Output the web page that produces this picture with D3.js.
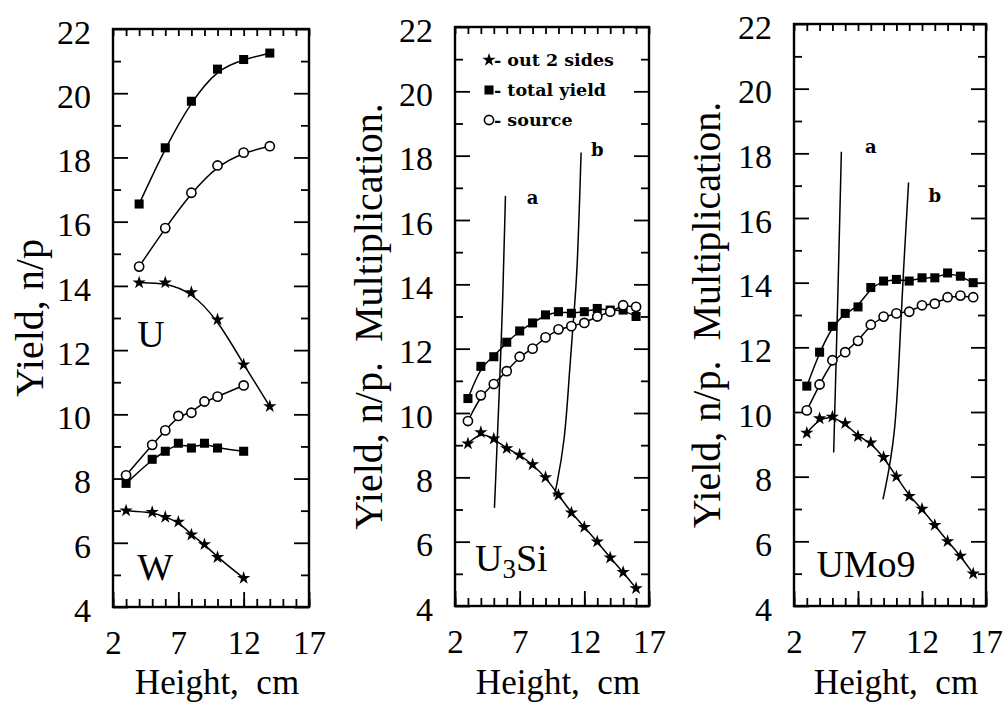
<!DOCTYPE html>
<html>
<head>
<meta charset="utf-8">
<script src="https://cdn.jsdelivr.net/npm/d3@7"></script>
<style>
  body { margin: 0; background: #fff; }
  svg { display: block; }
</style>
</head>
<body>
<div id="chart"></div>
<script>
// ---- data ----
// panel 1: U and W
var uX = [4, 6, 8, 10, 12, 14];
var uTotal = [16.55, 18.3, 19.75, 20.75, 21.05, 21.25];
var uSource = [14.6, 15.8, 16.9, 17.75, 18.15, 18.35];
var uOut = [14.1, 14.1, 13.8, 12.95, 11.55, 10.25];
var wX = [3, 5, 6, 7, 8, 9, 10, 12];
var wTotal = [7.85, 8.6, 8.85, 9.1, 8.95, 9.1, 8.95, 8.85];
var wSource = [8.1, 9.05, 9.5, 9.95, 10.05, 10.4, 10.55, 10.9];
var wOut = [7.0, 6.95, 6.8, 6.65, 6.25, 5.95, 5.55, 4.9];

// panel 2: U3Si
var siX = [3, 4, 5, 6, 7, 8, 9, 10, 11, 12, 13, 14, 15, 16];
var siTotal = [10.45, 11.45, 11.75, 12.2, 12.55, 12.8, 13.05, 13.15, 13.1, 13.15, 13.25, 13.2, 13.2, 13.0];
var siSource = [9.75, 10.55, 10.9, 11.3, 11.75, 12.0, 12.35, 12.6, 12.7, 12.8, 13.0, 13.15, 13.35, 13.3];
var siOut = [9.05, 9.4, 9.2, 8.9, 8.7, 8.4, 8.0, 7.45, 6.9, 6.45, 6.0, 5.5, 5.05, 4.55];
var siLineAX = [5.9, 5.7, 5.4, 5.05], siLineAY = [16.75, 13.5, 10.4, 7.05];
var siLineBX = [11.75, 11.45, 11.15, 10.8, 10.5, 9.8, 9.65], siLineBY = [18.1, 14.25, 12.9, 11.0, 9.15, 7.6, 7.4];

// panel 3: UMo9
var moX = [3, 4, 5, 6, 7, 8, 9, 10, 11, 12, 13, 14, 15, 16];
var moTotal = [10.8, 11.85, 12.65, 13.05, 13.25, 13.85, 14.05, 14.1, 14.05, 14.15, 14.15, 14.3, 14.2, 14.0];
var moSource = [10.05, 10.85, 11.6, 11.85, 12.2, 12.7, 12.95, 13.05, 13.1, 13.3, 13.35, 13.55, 13.6, 13.55];
var moOut = [9.35, 9.8, 9.85, 9.65, 9.25, 9.05, 8.6, 8.0, 7.4, 7.0, 6.5, 6.0, 5.55, 5.0];
var moLineAX = [5.7, 5.5, 5.1], moLineAY = [18.05, 14.7, 8.75];
var moLineBX = [10.95, 10.6, 10.3, 9.95, 8.95], moLineBY = [17.1, 14.7, 12.5, 9.2, 7.3];

// axis ticks
var xMajor = [2, 7, 12, 17];
var xMinor = d3.range(2, 18);
var yMajor = [4, 6, 8, 10, 12, 14, 16, 18, 20, 22];
var yMinor = [5, 7, 9, 11, 13, 15, 17, 19, 21];

var legendNames = ["- out 2 sides", "- total yield", "- source"];
var legendKinds = ["star", "square", "circle"];

var serif = "'Liberation Serif'";
var smallFont = "'DejaVu Serif'";

function zip(xs, ys) {
    return xs.map(function (v, i) { return [v, ys[i]]; });
}

var panels = [
    {left: 113, right: 309, top: 29, bottom: 607, title: "Yield, n/p", titleX: 43,
     series: [
        {kind: "square", pts: zip(uX, uTotal)},
        {kind: "circle", pts: zip(uX, uSource)},
        {kind: "star", pts: zip(uX, uOut)},
        {kind: "square", pts: zip(wX, wTotal)},
        {kind: "circle", pts: zip(wX, wSource)},
        {kind: "star", pts: zip(wX, wOut)}
     ],
     marks: [],
     notes: [],
     names: [{x: 3.85, y: 12.1, text: "U"}, {x: 3.85, y: 4.84, text: "W"}]},
    {left: 455, right: 649, top: 27, bottom: 606, title: "Yield, n/p.\u00a0 Multiplication.", titleX: 382,
     series: [
        {kind: "square", pts: zip(siX, siTotal)},
        {kind: "circle", pts: zip(siX, siSource)},
        {kind: "star", pts: zip(siX, siOut)}
     ],
     marks: [zip(siLineAX, siLineAY), zip(siLineBX, siLineBY)],
     notes: [{x: 8, y: 16.7, text: "a"}, {x: 13, y: 18.2, text: "b"}],
     names: [{x: 3.55, y: 5.1, text: "U", sub: "3", rest: "Si"}],
     legend: true},
    {left: 794, right: 986, top: 24, bottom: 606, title: "Yield, n/p.\u00a0 Multiplication.", titleX: 720,
     series: [
        {kind: "square", pts: zip(moX, moTotal)},
        {kind: "circle", pts: zip(moX, moSource)},
        {kind: "star", pts: zip(moX, moOut)}
     ],
     marks: [zip(moLineAX, moLineAY), zip(moLineBX, moLineBY)],
     notes: [{x: 8, y: 18.2, text: "a"}, {x: 13, y: 16.7, text: "b"}],
     names: [{x: 3.75, y: 4.9, text: "UMo9"}]}
];

var svg = d3.select("#chart").append("svg")
    .attr("width", 1007)
    .attr("height", 704);

function marker(sel, kind) {
    if (kind === "circle") {
        sel.append("circle")
            .attr("r", 4.6)
            .attr("fill", "#fff")
            .attr("stroke", "#000")
            .attr("stroke-width", 1.6);
    } else {
        sel.append("path")
            .attr("d", d3.symbol()
                .type(kind === "star" ? d3.symbolStar : d3.symbolSquare)
                .size(kind === "star" ? 55 : 82)())
            .attr("fill", "#000");
    }
}

function styleAxis(a) {
    a.select(".domain").remove();
    a.attr("font-family", null).attr("font-size", null);
    a.selectAll("line").attr("stroke", "#000").attr("stroke-width", 1.8);
    a.selectAll("text")
        .attr("fill", "#000")
        .style("font-family", serif)
        .style("font-size", "34px");
}

function drawPanel(p) {
    var x = d3.scaleLinear().domain([2, 17]).range([p.left, p.right]);
    var y = d3.scaleLinear().domain([4, 22]).range([p.bottom, p.top]);
    var g = svg.append("g");

    // tick marks, all pointing inward
    g.append("g").attr("transform", "translate(" + p.left + ",0)")
        .call(d3.axisLeft(y).tickValues(yMajor).tickSize(-15).tickPadding(22).tickFormat(d3.format("d")))
        .call(styleAxis)
        .selectAll("text").attr("dy", "0.42em");
    g.append("g").attr("transform", "translate(" + p.left + ",0)")
        .call(d3.axisLeft(y).tickValues(yMinor).tickSize(-8).tickFormat(""))
        .call(styleAxis);
    g.append("g").attr("transform", "translate(" + p.right + ",0)")
        .call(d3.axisRight(y).tickValues(yMajor).tickSize(-15).tickFormat(""))
        .call(styleAxis);
    g.append("g").attr("transform", "translate(" + p.right + ",0)")
        .call(d3.axisRight(y).tickValues(yMinor).tickSize(-8).tickFormat(""))
        .call(styleAxis);
    g.append("g").attr("transform", "translate(0," + p.bottom + ")")
        .call(d3.axisBottom(x).tickValues(xMajor).tickSize(-15).tickPadding(24).tickFormat(d3.format("d")))
        .call(styleAxis)
        .selectAll("text").style("font-size", "33px");
    g.append("g").attr("transform", "translate(0," + p.bottom + ")")
        .call(d3.axisBottom(x).tickValues(xMinor).tickSize(-8).tickFormat(""))
        .call(styleAxis);
    g.append("g").attr("transform", "translate(0," + p.top + ")")
        .call(d3.axisTop(x).tickValues(xMinor).tickSize(-7).tickFormat(""))
        .call(styleAxis);

    // frame
    g.append("rect")
        .attr("x", p.left)
        .attr("y", p.top)
        .attr("width", p.right - p.left)
        .attr("height", p.bottom - p.top)
        .attr("fill", "none")
        .attr("stroke", "#000")
        .attr("stroke-width", 2.4);

    var line = d3.line()
        .x(function (d) { return x(d[0]); })
        .y(function (d) { return y(d[1]); })
        .curve(d3.curveBasis);

    // a / b lines
    p.marks.forEach(function (m) {
        g.append("path")
            .attr("d", line(m))
            .attr("fill", "none")
            .attr("stroke", "#000")
            .attr("stroke-width", 1.5);
    });

    p.series.forEach(function (s) {
        g.append("path")
            .attr("d", line(s.pts))
            .attr("fill", "none")
            .attr("stroke", "#000")
            .attr("stroke-width", 1.5);
    });

    p.series.forEach(function (s) {
        g.selectAll(null)
            .data(s.pts)
            .enter()
            .append("g")
            .attr("transform", function (d) {
                return "translate(" + x(d[0]) + "," + y(d[1]) + ")";
            })
            .each(function () { marker(d3.select(this), s.kind); });
    });

    p.notes.forEach(function (n) {
        g.append("text")
            .attr("x", x(n.x))
            .attr("y", y(n.y))
            .attr("dy", "0.35em")
            .attr("text-anchor", "middle")
            .style("font-family", smallFont)
            .style("font-weight", "bold")
            .style("font-size", "18px")
            .text(n.text);
    });

    p.names.forEach(function (n) {
        var t = g.append("text")
            .attr("x", x(n.x))
            .attr("y", y(n.y))
            .style("font-family", serif)
            .style("font-size", "38px")
            .text(n.text);
        if (n.sub) {
            t.append("tspan").style("font-size", "27px").attr("dy", 7).text(n.sub);
            t.append("tspan").attr("dy", -7).text(n.rest);
        }
    });

    if (p.legend) {
        var leg = g.append("g")
            .attr("transform", "translate(" + (p.left + 34) + "," + (p.top + 33) + ")");
        legendNames.forEach(function (name, i) {
            var row = leg.append("g").attr("transform", "translate(0," + (i * 30) + ")");
            marker(row, legendKinds[i]);
            row.append("text")
                .attr("x", 5)
                .attr("dy", "0.35em")
                .style("font-family", smallFont)
                .style("font-weight", "bold")
                .style("font-size", "17.5px")
                .text(name);
        });
    }

    // axis titles
    g.append("text")
        .attr("transform", "translate(" + p.titleX + "," + ((p.top + p.bottom) / 2) + ") rotate(-90)")
        .attr("text-anchor", "middle")
        .style("font-family", serif)
        .style("font-size", "40px")
        .text(p.title);

    g.append("text")
        .attr("x", (p.left + p.right) / 2 + 6)
        .attr("y", 694)
        .attr("text-anchor", "middle")
        .style("font-family", serif)
        .style("font-size", "35px")
        .text("Height,\u00a0 cm");
}

panels.forEach(drawPanel);
</script>
</body>
</html>
